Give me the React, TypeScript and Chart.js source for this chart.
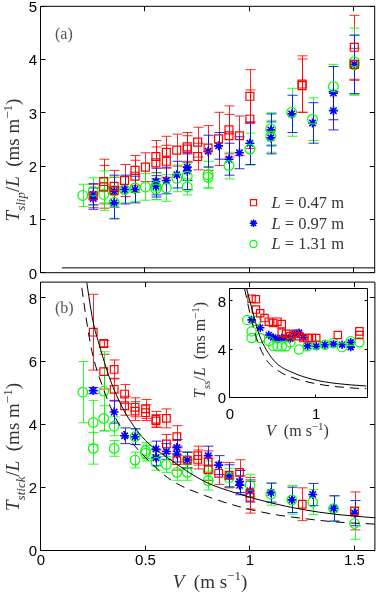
import React, { useEffect, useRef } from 'react';
import { Chart, registerables } from 'chart.js';
Chart.register(...registerables);

// ---------- Panel (a): T_slip / L ----------
const A_RED_V = [0.25,0.3,0.3,0.35,0.35,0.4,0.45,0.45,0.5,0.55,0.55,0.6,0.6,0.65,0.7,0.7,0.75,0.75,0.8,0.85,0.9,0.9,0.95,1.0,1.0,1.25,1.25,1.5,1.5];
const A_RED_T = [1.45,1.72,1.62,1.63,1.55,1.74,1.93,1.82,1.99,2.19,2.07,2.27,2.10,2.31,2.37,2.33,2.46,2.19,2.35,2.52,2.69,2.58,2.58,3.32,2.89,3.55,3.52,4.24,3.92];
const A_RED_E = [0.22,0.42,0.4,0.3,0.25,0.3,0.28,0.3,0.27,0.3,0.3,0.3,0.3,0.3,0.27,0.25,0.28,0.25,0.42,0.5,0.45,0.4,0.37,0.5,0.55,0.53,0.5,0.6,0.3];

const A_BLUE_V = [0.25,0.25,0.35,0.35,0.4,0.45,0.55,0.55,0.6,0.65,0.7,0.7,0.8,0.85,0.9,0.95,1.0,1.1,1.1,1.2,1.3,1.4,1.4,1.5];
const A_BLUE_T = [1.48,1.40,1.54,1.32,1.57,1.57,1.63,1.72,1.74,1.85,1.99,1.92,2.29,2.39,2.14,2.26,2.44,2.69,2.54,2.99,2.82,3.38,3.05,3.92];
const A_BLUE_E = [0.2,0.2,0.3,0.3,0.27,0.25,0.2,0.25,0.25,0.25,0.25,0.35,0.3,0.25,0.3,0.3,0.4,0.3,0.3,0.35,0.38,0.5,0.36,0.55];

const A_GREEN_V = [0.2,0.25,0.3,0.3,0.35,0.35,0.4,0.45,0.5,0.55,0.55,0.6,0.65,0.7,0.7,0.8,0.8,0.9,1.0,1.1,1.1,1.2,1.3,1.4,1.5,1.5];
const A_GREEN_T = [1.46,1.54,1.62,1.48,1.33,1.55,1.57,1.60,1.62,1.63,1.58,1.60,1.78,1.82,1.62,1.85,1.80,2.02,2.33,2.71,2.57,3.02,2.89,3.50,3.97,3.91];
const A_GREEN_E = [0.21,0.25,0.3,0.3,0.3,0.25,0.25,0.25,0.25,0.25,0.2,0.25,0.25,0.25,0.15,0.25,0.2,0.25,0.3,0.3,0.3,0.45,0.4,0.42,0.63,0.55];

const A_BASE_V = [0.1, 1.6];
const A_BASE_T = [0.1, 0.1];

// ---------- Panel (b): T_stick / L ----------
const B_RED_V = [0.25,0.3,0.3,0.35,0.35,0.4,0.4,0.45,0.45,0.5,0.5,0.55,0.55,0.6,0.6,0.65,0.65,0.7,0.75,0.75,0.8,0.8,0.85,0.9,0.95,1.0,1.0,1.25,1.5];
const B_RED_T = [6.93,6.57,5.68,5.75,5.12,4.97,4.60,4.55,4.43,4.50,4.38,4.17,4.12,4.20,3.39,3.62,2.86,2.88,3.02,2.90,2.82,2.58,2.46,2.40,2.49,1.83,1.70,1.48,1.27];
const B_RED_E = [1.2,0.1,0.55,0.3,0.35,0.3,0.3,0.3,0.3,0.3,0.25,0.25,0.2,0.3,0.3,0.35,0.3,0.25,0.3,0.3,0.35,0.35,0.35,0.4,0.4,0.5,0.5,0.52,0.6];

const B_BLUE_V = [0.25,0.35,0.4,0.45,0.55,0.55,0.6,0.65,0.65,0.7,0.8,0.85,0.9,0.95,0.95,1.0,1.1,1.2,1.3,1.4,1.5];
const B_BLUE_T = [5.08,4.40,3.65,3.62,3.23,2.95,3.15,3.28,3.07,2.88,3.02,2.72,2.38,2.20,2.08,1.90,1.85,1.62,1.79,1.35,1.20];
const B_BLUE_E = [0.1,0.35,0.25,0.25,0.25,0.25,0.25,0.25,0.25,0.25,0.3,0.3,0.35,0.35,0.3,0.35,0.3,0.4,0.35,0.4,0.4];

const B_GREEN_V = [0.2,0.25,0.25,0.3,0.3,0.35,0.35,0.45,0.45,0.5,0.5,0.55,0.6,0.65,0.7,0.7,0.8,0.8,0.9,1.0,1.1,1.2,1.3,1.4,1.5];
const B_GREEN_T = [5.03,4.07,3.25,5.06,4.20,3.95,3.25,3.62,2.88,3.18,3.10,2.81,2.74,2.49,2.88,2.49,2.55,2.23,2.32,2.08,1.80,1.62,1.55,1.34,0.87];
const B_GREEN_E = [0.97,0.7,0.5,1.25,0.4,0.3,0.25,0.25,0.25,0.25,0.25,0.25,0.25,0.25,0.25,0.25,0.3,0.3,0.3,0.35,0.35,0.45,0.4,0.4,0.5];

const B_SOLID_V = [0.21,0.248,0.28,0.327,0.374,0.429,0.5,0.626,0.783,0.94,1.097,1.255,1.412,1.6];
const B_SOLID_T = [8.9,7.3,6.5,5.5,4.75,4.1,3.5,2.86,2.2,1.82,1.53,1.31,1.16,1.05];
const B_DASH_V = [0.185,0.225,0.248,0.295,0.358,0.44,0.531,0.626,0.783,0.94,1.097,1.255,1.41,1.6];
const B_DASH_T = [8.8,7.0,6.2,5.2,4.2,3.4,2.76,2.23,1.76,1.42,1.18,1.03,0.92,0.85];

// ---------- Inset: T_ss / L ----------
const I_RED_V = [0.25,0.3,0.3,0.35,0.4,0.45,0.5,0.55,0.6,0.6,0.65,0.7,0.75,0.8,0.85,0.9,0.95,1.0,1.25,1.5,1.5];
const I_RED_T = [8.2,8.15,7.3,7.0,6.6,6.3,6.2,6.3,6.1,5.4,5.3,5.1,5.3,5.1,4.95,4.95,4.95,4.95,5.2,5.5,5.2];
const I_BLUE_V = [0.25,0.35,0.45,0.5,0.55,0.6,0.65,0.7,0.75,0.8,0.85,0.9,1.0,1.1,1.2,1.3,1.4,1.4];
const I_BLUE_T = [6.45,5.8,5.2,5.0,4.9,4.95,5.0,4.9,5.3,5.4,5.0,4.3,4.27,4.4,4.45,4.4,4.6,4.2];
const I_GREEN_V = [0.2,0.25,0.25,0.3,0.35,0.45,0.5,0.55,0.6,0.65,0.7,0.8,0.9,1.0,1.1,1.2,1.3,1.4,1.5];
const I_GREEN_T = [6.45,5.5,4.95,6.35,4.95,4.7,4.3,4.27,4.27,4.27,4.6,4.0,4.27,4.4,4.4,4.55,4.2,4.7,4.6];
const I_SOLID_V = [0.19,0.283,0.34,0.42,0.535,0.73,0.96,1.23,1.58];
const I_SOLID_T = [9.1,6.6,5.2,4.0,2.9,2.09,1.54,1.2,0.99];
const I_DASH_V = [0.17,0.244,0.32,0.42,0.57,0.73,1.04,1.47,1.58];
const I_DASH_T = [9.0,6.6,4.68,3.17,2.2,1.67,1.12,0.8,0.77];

// ---------- Ticks / labels ----------
const X_TICKS = [0, 0.5, 1, 1.5];
const X_TICK_LABELS = ['0', '0.5', '1', '1.5'];
const A_Y_TICKS = [0, 1, 2, 3, 4, 5];
const B_Y_TICKS = [0, 2, 4, 6, 8];
const I_X_TICKS = [0, 1];
const I_Y_TICKS = [0, 4, 8];
const LEGEND_L = ['0.47', '0.97', '1.31'];

const RED = '#ff0000';
const BLUE = '#0000ff';
const GREEN = '#00ff00';
const SERIF = '"Liberation Serif", "Times New Roman", serif';
const SANS = '"Liberation Sans", Arial, sans-serif';

type Seg = { t: string; it?: boolean; sub?: boolean; sup?: boolean };

function segFont(s: Seg, size: number) {
  const sz = s.sub || s.sup ? Math.round(size * 0.7) : size;
  return `${s.it ? 'italic ' : ''}${sz}px ${SERIF}`;
}

function drawRich(ctx: CanvasRenderingContext2D, segs: Seg[], x: number, y: number, size: number, rot: boolean, align: 'center' | 'left' = 'center', color = '#333') {
  ctx.save();
  ctx.translate(x, y);
  if (rot) ctx.rotate(-Math.PI / 2);
  let w = 0;
  for (const s of segs) { ctx.font = segFont(s, size); w += ctx.measureText(s.t).width; }
  let cx = align === 'left' ? 0 : -w / 2;
  ctx.fillStyle = color;
  ctx.textBaseline = 'alphabetic';
  ctx.textAlign = 'left';
  const base = size * 0.33;
  for (const s of segs) {
    ctx.font = segFont(s, size);
    const dy = s.sub ? size * 0.28 : s.sup ? -size * 0.4 : 0;
    ctx.fillText(s.t, cx, base + dy);
    cx += ctx.measureText(s.t).width;
  }
  ctx.restore();
}

function drawMarker(ctx: CanvasRenderingContext2D, style: string, x: number, y: number, r: number, color: string) {
  ctx.save();
  ctx.strokeStyle = color;
  ctx.lineWidth = style === 'star' ? 1.6 : 1.2;
  ctx.beginPath();
  if (style === 'rect') {
    const h = r * Math.SQRT1_2;
    ctx.rect(x - h, y - h, 2 * h, 2 * h);
  } else if (style === 'circle') {
    ctx.arc(x, y, r, 0, Math.PI * 2);
  } else {
    for (let k = 0; k < 4; k++) {
      const a = (k * Math.PI) / 4;
      const dx = Math.cos(a) * r, dy = Math.sin(a) * r;
      ctx.moveTo(x - dx, y - dy);
      ctx.lineTo(x + dx, y + dy);
    }
  }
  ctx.stroke();
  ctx.restore();
}

const pts = (v: number[], t: number[]) => v.map((x, i) => ({ x, y: t[i] }));

function markerDs(v: number[], t: number[], e: number[] | null, color: string, style: string, r: number) {
  const w = style === 'star' ? 1.6 : 1.2;
  return {
    data: pts(v, t),
    errors: e,
    pointStyle: style,
    pointRadius: r,
    pointHoverRadius: r,
    borderColor: color,
    backgroundColor: 'rgba(0,0,0,0)',
    pointBorderWidth: w,
    borderWidth: w,
    showLine: false,
  };
}

function curveDs(v: number[], t: number[], dashed: boolean) {
  return {
    data: pts(v, t),
    showLine: true,
    pointRadius: 0,
    borderColor: '#000',
    backgroundColor: '#000',
    borderWidth: 1,
    borderDash: dashed ? [9, 6] : [],
    cubicInterpolationMode: 'monotone',
    fill: false,
  };
}

type DecorCfg = {
  xTicks: number[];
  xLabels: string[] | null;
  yTicks: number[];
  tickLen: number;
  xLabelOffset: number;
  yLabelGap: number;
  fontPx: number;
  extra?: (ctx: CanvasRenderingContext2D, chart: any) => void;
};

function decorPlugin(cfg: DecorCfg) {
  return {
    id: 'decor',
    beforeDraw(chart: any) {
      const { ctx, chartArea: a } = chart;
      ctx.save();
      ctx.fillStyle = '#fff';
      ctx.fillRect(a.left, a.top, a.right - a.left, a.bottom - a.top);
      ctx.restore();
    },
    beforeDatasetsDraw(chart: any) {
      const { ctx, chartArea: a } = chart;
      const xs = chart.scales.x, ys = chart.scales.y;
      ctx.save();
      ctx.beginPath();
      ctx.rect(a.left, a.top, a.right - a.left, a.bottom - a.top);
      ctx.clip();
      ctx.lineWidth = 1;
      chart.data.datasets.forEach((ds: any) => {
        if (!ds.errors) return;
        ctx.strokeStyle = ds.borderColor;
        ctx.globalAlpha = 0.85;
        ds.data.forEach((p: any, j: number) => {
          const e = ds.errors[j];
          const px = Math.round(xs.getPixelForValue(p.x)) + 0.5;
          const y1 = ys.getPixelForValue(p.y - e);
          const y2 = ys.getPixelForValue(p.y + e);
          const cap = 5;
          ctx.beginPath();
          ctx.moveTo(px, y1); ctx.lineTo(px, y2);
          ctx.moveTo(px - cap, y1); ctx.lineTo(px + cap, y1);
          ctx.moveTo(px - cap, y2); ctx.lineTo(px + cap, y2);
          ctx.stroke();
        });
      });
      ctx.restore();
    },
    afterDraw(chart: any) {
      const { ctx, chartArea: a } = chart;
      const xs = chart.scales.x, ys = chart.scales.y;
      const L = a.left - 0.5, R = a.right - 0.5, T = a.top - 0.5, B = a.bottom - 0.5;
      ctx.save();
      ctx.strokeStyle = '#000';
      ctx.lineWidth = 1;
      ctx.beginPath();
      ctx.rect(L, T, R - L, B - T);
      for (const xt of cfg.xTicks) {
        const px = Math.round(xs.getPixelForValue(xt)) - 0.5;
        ctx.moveTo(px, B); ctx.lineTo(px, B - cfg.tickLen);
        ctx.moveTo(px, T); ctx.lineTo(px, T + cfg.tickLen);
      }
      for (const yt of cfg.yTicks) {
        const py = Math.round(ys.getPixelForValue(yt)) - 0.5;
        ctx.moveTo(L, py); ctx.lineTo(L + cfg.tickLen, py);
        ctx.moveTo(R, py); ctx.lineTo(R - cfg.tickLen, py);
      }
      ctx.stroke();
      ctx.fillStyle = '#000';
      ctx.font = `${cfg.fontPx}px ${SANS}`;
      if (cfg.xLabels) {
        ctx.textAlign = 'center';
        ctx.textBaseline = 'alphabetic';
        cfg.xTicks.forEach((xt, i) => {
          ctx.fillText(cfg.xLabels![i], xs.getPixelForValue(xt), a.bottom + cfg.xLabelOffset);
        });
      }
      ctx.textAlign = 'right';
      ctx.textBaseline = 'alphabetic';
      for (const yt of cfg.yTicks) {
        ctx.fillText(String(yt), a.left - cfg.yLabelGap, ys.getPixelForValue(yt) + cfg.fontPx * 0.36);
      }
      ctx.restore();
      if (cfg.extra) cfg.extra(ctx, chart);
    },
  };
}

function baseOptions(xMax: number, yMax: number, padding: any) {
  return {
    responsive: false,
    animation: false,
    devicePixelRatio: 1,
    events: [],
    layout: { padding },
    plugins: { legend: { display: false }, tooltip: { enabled: false } },
    scales: {
      x: { type: 'linear', min: 0, max: xMax, display: false },
      y: { type: 'linear', min: 0, max: yMax, display: false },
    },
  };
}

const TITLE_SLIP: Seg[] = [{ t: 'T', it: true }, { t: 'slip', it: true, sub: true }, { t: '/' }, { t: 'L', it: true }, { t: '  (ms m' }, { t: '\u22121', sup: true }, { t: ')' }];
const TITLE_STICK: Seg[] = [{ t: 'T', it: true }, { t: 'stick', it: true, sub: true }, { t: '/' }, { t: 'L', it: true }, { t: '  (ms m' }, { t: '\u22121', sup: true }, { t: ')' }];
const TITLE_SS: Seg[] = [{ t: 'T', it: true }, { t: 'ss', it: true, sub: true }, { t: '/' }, { t: 'L', it: true }, { t: '  (ms m' }, { t: '\u22121', sup: true }, { t: ')' }];
const TITLE_V: Seg[] = [{ t: 'V', it: true }, { t: '  (m s' }, { t: '\u22121', sup: true }, { t: ')' }];

function topConfig(): any {
  return {
    type: 'scatter',
    data: {
      datasets: [
        curveDs(A_BASE_V, A_BASE_T, false),
        markerDs(A_RED_V, A_RED_T, A_RED_E, RED, 'rect', 5.6),
        markerDs(A_GREEN_V, A_GREEN_T, A_GREEN_E, GREEN, 'circle', 4.9),
        markerDs(A_BLUE_V, A_BLUE_T, A_BLUE_E, BLUE, 'star', 4.5),
      ],
    },
    options: baseOptions(1.6, 5, { left: 41, right: 2, top: 5, bottom: 6 }),
    plugins: [
      decorPlugin({
        xTicks: X_TICKS, xLabels: null, yTicks: A_Y_TICKS, tickLen: 5, xLabelOffset: 14, yLabelGap: 4, fontPx: 15,
        extra: (ctx) => {
          drawRich(ctx, TITLE_SLIP, 13, 160, 19, true);
          drawRich(ctx, [{ t: '(a)' }], 55, 34, 16, false, 'left', '#555');
          const styles = ['rect', 'star', 'circle'];
          const colors = [RED, BLUE, GREEN];
          const radii = [4.3, 3.8, 3.6];
          const rows = [202.7, 223.3, 244];
          LEGEND_L.forEach((l, i) => {
            drawMarker(ctx, styles[i], 253.5, rows[i], radii[i], colors[i]);
            drawRich(ctx, [{ t: 'L', it: true }, { t: ' = ' + l + ' m' }], 271.5, rows[i], 16.5, false, 'left');
          });
        },
      }),
    ],
  };
}

function bottomConfig(): any {
  return {
    type: 'scatter',
    data: {
      datasets: [
        curveDs(B_SOLID_V, B_SOLID_T, false),
        curveDs(B_DASH_V, B_DASH_T, true),
        markerDs(B_RED_V, B_RED_T, B_RED_E, RED, 'rect', 5.4),
        markerDs(B_GREEN_V, B_GREEN_T, B_GREEN_E, GREEN, 'circle', 4.8),
        markerDs(B_BLUE_V, B_BLUE_T, B_BLUE_E, BLUE, 'star', 4.5),
      ],
    },
    options: baseOptions(1.6, 8.5, { left: 41, right: 2, top: 4, bottom: 44 }),
    plugins: [
      decorPlugin({
        xTicks: X_TICKS, xLabels: X_TICK_LABELS, yTicks: B_Y_TICKS, tickLen: 5, xLabelOffset: 14, yLabelGap: 4, fontPx: 15,
        extra: (ctx) => {
          drawRich(ctx, TITLE_STICK, 13, 171, 19, true);
          drawRich(ctx, TITLE_V, 210, 305.5, 19, false);
          drawRich(ctx, [{ t: '(b)' }], 55, 32, 16, false, 'left', '#555');
        },
      }),
    ],
  };
}

function insetConfig(): any {
  return {
    type: 'scatter',
    data: {
      datasets: [
        curveDs(I_SOLID_V, I_SOLID_T, false),
        curveDs(I_DASH_V, I_DASH_T, true),
        markerDs(I_RED_V, I_RED_T, null, RED, 'rect', 5.2),
        markerDs(I_GREEN_V, I_GREEN_T, null, GREEN, 'circle', 4.6),
        markerDs(I_BLUE_V, I_BLUE_T, null, BLUE, 'star', 4.2),
      ],
    },
    options: baseOptions(1.6, 9, { left: 40, right: 12, top: 7, bottom: 46 }),
    plugins: [
      decorPlugin({
        xTicks: I_X_TICKS, xLabels: ['0', '1'], yTicks: I_Y_TICKS, tickLen: 3, xLabelOffset: 21, yLabelGap: 4, fontPx: 15,
        extra: (ctx) => {
          drawRich(ctx, TITLE_SS, 10, 68, 16, true);
          drawRich(ctx, TITLE_V, 107.5, 149, 16, false);
        },
      }),
    ],
  };
}

export default function App() {
  const topRef = useRef<HTMLCanvasElement>(null);
  const botRef = useRef<HTMLCanvasElement>(null);
  const insRef = useRef<HTMLCanvasElement>(null);

  useEffect(() => {
    const charts = [
      new Chart(topRef.current as HTMLCanvasElement, topConfig()),
      new Chart(botRef.current as HTMLCanvasElement, bottomConfig()),
      new Chart(insRef.current as HTMLCanvasElement, insetConfig()),
    ];
    return () => charts.forEach((c) => c.destroy());
  }, []);

  return (
    <div style={{ position: 'fixed', left: 0, top: 0, width: 382, height: 595, background: '#fff', overflow: 'hidden' }}>
      <canvas ref={topRef} width={382} height={280} style={{ position: 'absolute', left: 0, top: 0 }} />
      <canvas ref={botRef} width={382} height={319} style={{ position: 'absolute', left: 0, top: 276 }} />
      <canvas ref={insRef} width={190} height={162} style={{ position: 'absolute', left: 190, top: 282 }} />
    </div>
  );
}
